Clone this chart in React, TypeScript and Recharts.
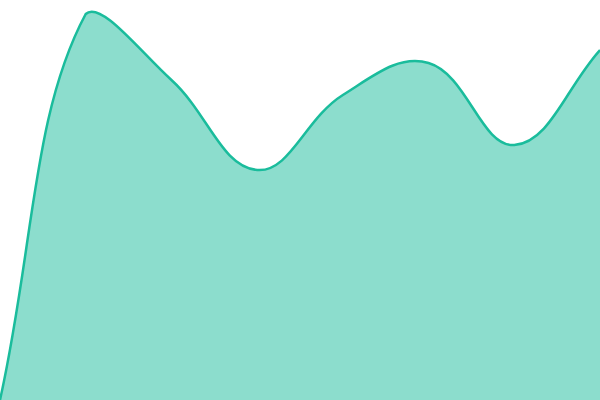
import React from "react";
import { AreaChart, Area, XAxis, YAxis } from "recharts";

const categories = ["A", "B", "C", "D", "E", "F", "G", "H"];
const values = [0, 386, 320, 230, 305, 337, 255, 350];

const data = categories.map((c, i) => ({ name: c, value: values[i] }));

const CHART_W = 600;
const CHART_H = 400;
const TENSION = 0.4;

type P = { x: number; y: number };

function dist(a: P, b: P) {
  return Math.sqrt((a.x - b.x) ** 2 + (a.y - b.y) ** 2);
}
function cap(v: number, min: number, max: number) {
  return Math.max(Math.min(v, max), min);
}
function inArea(p: P) {
  return p.x >= 0 && p.x <= CHART_W && p.y >= 0 && p.y <= CHART_H;
}

// Tension spline (bezier with distance-weighted control points), d3-shape compatible factory
function tensionSpline(context: any) {
  let line = NaN;
  let pts: P[] = [];
  return {
    areaStart() {
      line = 0;
    },
    areaEnd() {
      line = NaN;
    },
    lineStart() {
      pts = [];
    },
    point(x: number, y: number) {
      pts.push({ x: +x, y: +y });
    },
    lineEnd() {
      const n = pts.length;
      if (n > 0) {
        if (line) context.lineTo(pts[0].x, pts[0].y);
        else context.moveTo(pts[0].x, pts[0].y);
        const cps = pts.map((cur, i) => {
          const prev = pts[i - 1] || cur;
          const next = pts[i + 1] || cur;
          const d01 = dist(cur, prev);
          const d12 = dist(next, cur);
          let s01 = d01 / (d01 + d12);
          let s12 = d12 / (d01 + d12);
          if (isNaN(s01)) s01 = 0;
          if (isNaN(s12)) s12 = 0;
          const fa = TENSION * s01;
          const fb = TENSION * s12;
          return {
            p: { x: cur.x - fa * (next.x - prev.x), y: cur.y - fa * (next.y - prev.y) },
            n: { x: cur.x + fb * (next.x - prev.x), y: cur.y + fb * (next.y - prev.y) },
          };
        });
        for (let i = 0; i < n; i++) {
          if (!inArea(pts[i])) continue;
          if (i > 0 && inArea(pts[i - 1])) {
            cps[i].p.x = cap(cps[i].p.x, 0, CHART_W);
            cps[i].p.y = cap(cps[i].p.y, 0, CHART_H);
          }
          if (i < n - 1 && inArea(pts[i + 1])) {
            cps[i].n.x = cap(cps[i].n.x, 0, CHART_W);
            cps[i].n.y = cap(cps[i].n.y, 0, CHART_H);
          }
        }
        for (let i = 0; i < n - 1; i++) {
          context.bezierCurveTo(cps[i].n.x, cps[i].n.y, cps[i + 1].p.x, cps[i + 1].p.y, pts[i + 1].x, pts[i + 1].y);
        }
      }
      if (line || (line !== 0 && n === 1)) context.closePath();
      line = 1 - line;
    },
  };
}

export default function App() {
  return (
    <div style={{ position: "fixed", left: 0, top: 0, width: CHART_W, height: CHART_H, background: "#fff" }}>
      <AreaChart width={CHART_W} height={CHART_H} data={data} margin={{ top: 0, right: 0, bottom: 0, left: 0 }}>
        <XAxis dataKey="name" hide padding={{ left: 0, right: 0 }} />
        <YAxis hide domain={[0, 400]} />
        <Area
          type={tensionSpline as any}
          dataKey="value"
          stroke="#1abc9c"
          strokeWidth={2.5}
          fill="#1abc9c"
          fillOpacity={0.5}
          dot={false}
          activeDot={false}
          isAnimationActive={false}
        />
      </AreaChart>
    </div>
  );
}
